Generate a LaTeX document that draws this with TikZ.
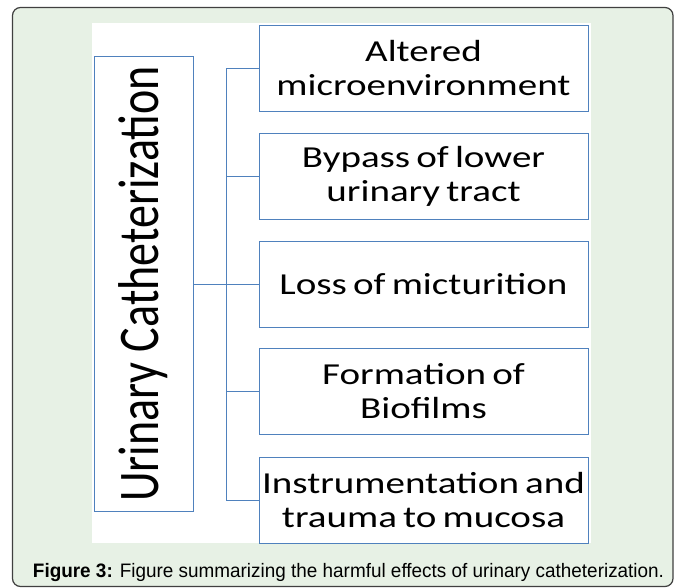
\documentclass[tikz,border=0pt]{standalone}
\usepackage{fontspec}
\setmainfont{Carlito}
\newfontfamily\boxfont[FakeStretch=1.28,WordSpace=0.7]{Carlito}
\newfontfamily\capfont[FakeStretch=0.97]{Liberation Sans}
\definecolor{boxblue}{RGB}{79,129,189}
\definecolor{panelgreen}{RGB}{231,241,229}

\begin{document}
\begin{tikzpicture}[x=1pt,y=-1pt,
    effect/.style={draw=boxblue,fill=white,line width=1pt,minimum width=329pt,
      minimum height=86pt,inner sep=0pt,align=center,
      font=\boxfont\fontsize{30.5}{34}\selectfont},
    link/.style={draw=boxblue,line width=1pt}]

    \useasboundingbox (0,0) rectangle (677,588);

    % Panel and white figure area
    \draw[fill=panelgreen,draw=black!75,line width=1.2pt,rounded corners=8pt]
      (12.5,7.5) rectangle (673,586.5);
    \fill[white] (92,23) rectangle (591,543);

    % Main box
    \node[draw=boxblue,line width=1pt,minimum width=99pt,minimum height=454pt,
      inner sep=0pt,font=\fontsize{46}{50}\selectfont] (cath) at (143.5,284)
      {\rotatebox{90}{\raisebox{4pt}{\scalebox{1}[1.25]{Urinary Catheterization}}}};

    % Effect boxes
    \node[effect] (e1) at (423.5,68.5) {Altered\\microenvironment};
    \node[effect] (e2) at (423.5,176.5) {Bypass of lower\\urinary tract};
    \node[effect] (e3) at (423.5,284) {Loss of micturition};
    \node[effect] (e4) at (423.5,391) {Formation of\\Biofilms};
    \node[effect] (e5) at (423.5,500) {Instrumentation and\\trauma to mucosa};

    % Connectors
    \coordinate (jt) at (226,284);
    \draw[link] (cath.east) -- (jt);
    \draw[link] (e1.west) -- (e1.west -| jt) -- (e5.west -| jt) -- (e5.west);
    \foreach \n in {2,3,4} {
      \draw[link] (e\n.west -| jt) -- (e\n.west);
    }

    % Caption
    \node[font=\capfont\fontsize{19.5}{22}\selectfont,inner sep=0pt,anchor=base]
      (caption) at (348.5,577)
      {\textbf{Figure 3:} Figure summarizing the harmful effects of urinary catheterization.};

\end{tikzpicture}
\end{document}
